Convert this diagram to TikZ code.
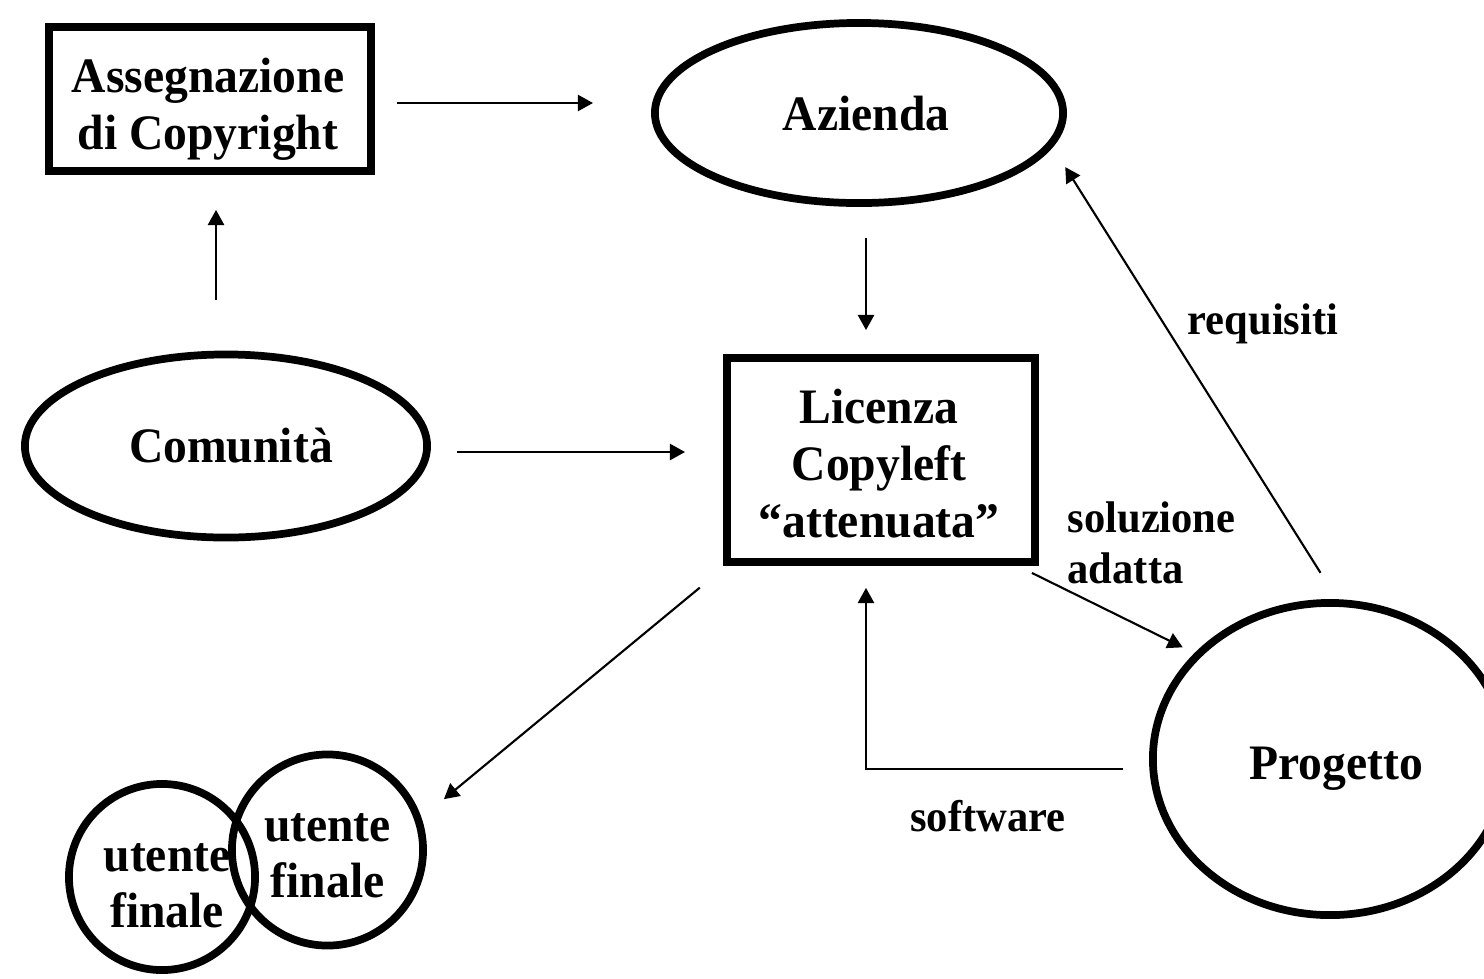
\documentclass[tikz,border=0pt]{standalone}
\usepackage{fontspec}
\setmainfont[FakeStretch=0.96]{Liberation Serif}
\usetikzlibrary{arrows.meta,shapes.geometric}
\begin{document}
\begin{tikzpicture}[x=0.01cm,y=-0.01cm,
  heavy/.style={draw, line width=2.2pt, inner sep=0pt},
  boxnode/.style={heavy, rectangle},
  ellnode/.style={heavy, ellipse},
  circnode/.style={heavy, circle},
  txt/.style={font=\fontsize{14.1}{16.2}\selectfont\bfseries, align=center, inner sep=0pt},
  edgetxt/.style={font=\fontsize{12.6}{14.5}\selectfont\bfseries, inner sep=0pt},
  arr/.style={line width=0.6pt, -{Triangle[length=4.3pt,width=4.6pt]}},
]
\useasboundingbox (0,0) rectangle (1484,978);

% shapes with their texts
\node[boxnode, minimum width=3.22cm, minimum height=1.44cm,
  label={[txt,xshift=-0.02cm,yshift=-0.1cm]center:{Assegnazione\\di Copyright}}] (assegn) at (210,99) {};
\node[ellnode, minimum width=4.08cm, minimum height=1.80cm,
  label={[txt,xshift=0.07cm,yshift=-0.01cm]center:{Azienda}}] (azienda) at (859,113) {};
\node[ellnode, minimum width=4.02cm, minimum height=1.83cm,
  label={[txt,xshift=0.05cm]center:{Comunità}}] (comunita) at (226,446) {};
\node[boxnode, minimum width=3.08cm, minimum height=2.04cm,
  label={[txt,xshift=-0.02cm,yshift=-0.04cm]center:{Licenza\\Copyleft\\“attenuata”}}] (licenza) at (881,460) {};
\node[ellnode, minimum width=3.54cm, minimum height=3.12cm,
  label={[txt,xshift=0.06cm,yshift=-0.1cm]center:{Progetto}}] (progetto) at (1330,759) {};
\node[circnode, minimum size=1.86cm,
  label={[txt,font=\fontsize{14.1}{15.8}\selectfont\bfseries,xshift=0.05cm,yshift=-0.09cm]center:{utente\\finale}}] (utente1) at (162,877) {};
\node[circnode, minimum size=1.91cm,
  label={[txt,font=\fontsize{14.1}{15.8}\selectfont\bfseries,yshift=-0.055cm]center:{utente\\finale}}] (utente2) at (327.5,850) {};

% connector labels
\node[edgetxt] (requisiti) at (1263,324) {requisiti};
\node[edgetxt, align=left, anchor=west] (soluzione) at (1067,543) {soluzione\\adatta};
\node[edgetxt] (software) at (988,816) {software};

% connectors
\draw[arr, shorten <=0.22cm, shorten >=0.58cm]
  ([yshift=-0.04cm]assegn.east) -- ([yshift=-0.04cm]assegn.east -| azienda.west);
\draw[arr, shorten <=0.51cm, shorten >=0.35cm]
  ([xshift=0.06cm]assegn.south |- comunita.north) -- ([xshift=0.06cm]assegn.south);
\draw[arr, shorten <=0.31cm, shorten >=0.24cm]
  ([xshift=0.07cm]azienda.south) -- ([xshift=0.07cm]azienda.south |- licenza.north);
\draw[arr, shorten <=0.26cm, shorten >=0.38cm]
  ([yshift=-0.06cm]comunita.east) -- ([yshift=-0.06cm]comunita.east -| licenza.west);
\draw[arr, shorten <=0.31cm, shorten >=0.235cm]
  ([xshift=0.07cm]progetto.north) -- (azienda.-10);
\draw[arr, shorten >=0.13cm]
  ([xshift=-0.07cm,yshift=-0.07cm]licenza.south east) -- (progetto.142);
\draw[arr, shorten <=0.26cm, shorten >=0.22cm]
  ([yshift=-0.1cm]progetto.west) -| ([xshift=-0.15cm]licenza.south);
\draw[arr, shorten <=0.34cm, shorten >=0.29cm]
  ([xshift=0.03cm]licenza.south west) -- (utente2.19);
\end{tikzpicture}
\end{document}
